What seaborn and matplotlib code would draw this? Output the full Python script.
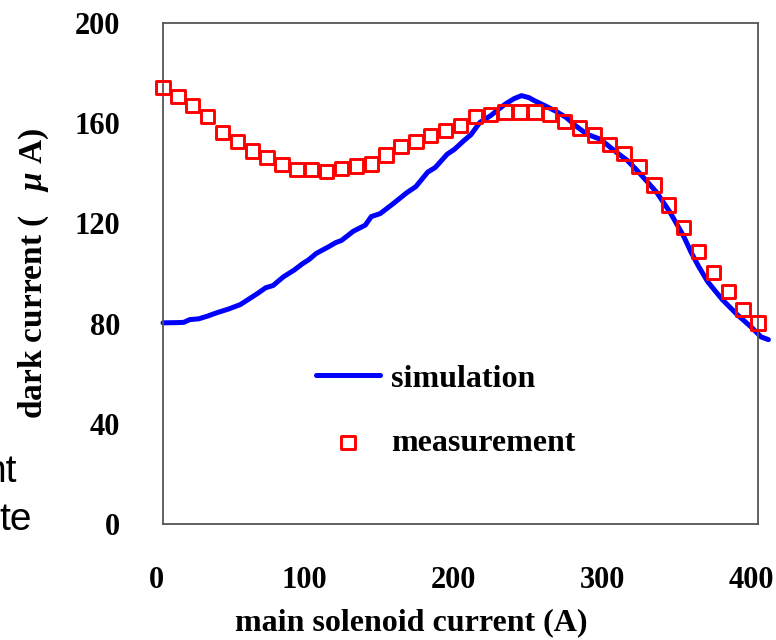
import numpy as np
import pandas as pd
import matplotlib
matplotlib.use("Agg")
import matplotlib.pyplot as plt
import matplotlib.transforms as mtransforms
import seaborn as sns

# ---- data ----
sim_x = [0, 10, 14, 18, 24, 30, 36, 44, 52, 58, 64, 69, 74, 81, 88, 94, 98, 103,
         112, 116, 120, 128, 136, 140, 146, 155, 164, 170, 178, 183, 191, 196,
         202, 207, 213, 220, 230, 236, 241, 246, 250, 257, 264, 271, 278, 285,
         294, 305, 312, 318, 325, 332, 341, 350, 355, 360, 366, 371, 376, 386,
         396, 402, 407]
sim_y = [80.3, 80.4, 80.5, 81.6, 81.9, 83.0, 84.3, 85.8, 87.6, 89.9, 92.2, 94.3,
         95.2, 98.7, 101.3, 104.0, 105.5, 108.0, 110.9, 112.3, 113.2, 116.9,
         119.3, 122.7, 123.9, 128.0, 132.3, 134.7, 140.5, 142.3, 147.6, 149.6,
         152.9, 155.4, 160.3, 162.9, 167.6, 169.8, 171.0, 170.2, 168.9, 166.9,
         164.8, 162.3, 158.7, 155.6, 153.6, 148.3, 145.2, 141.6, 137.0, 132.3,
         124.3, 114.9, 108.5, 102.9, 96.9, 93.2, 89.6, 83.6, 78.3, 74.7, 73.6]

meas_x = [0, 10, 20, 30, 40, 50, 60, 70, 80, 90, 100, 110, 120, 130, 140, 150,
          160, 170, 180, 190, 200, 210, 220, 230, 240, 250, 260, 270, 280, 290,
          300, 310, 320, 330, 340, 350, 360, 370, 380, 390, 400]
meas_y = [174.3, 170.7, 167.1, 162.7, 156.3, 152.7, 148.9, 146.3, 143.6, 141.6,
          141.6, 140.7, 141.9, 142.9, 143.7, 147.3, 150.8, 152.8, 155.2, 157.2,
          159.0, 162.7, 163.6, 164.5, 164.5, 164.5, 163.6, 160.8, 158.1, 155.3,
          151.6, 148.0, 142.7, 135.3, 127.3, 118.3, 108.9, 100.3, 92.9, 85.6, 80.3]

x_ticks = [0, 100, 200, 300, 400]
y_ticks = [0, 40, 80, 120, 160, 200]
x_label = "main solenoid current (A)"
y_label = r"dark current (   $\mu$ A)"
sim_name = "simulation"
meas_name = "measurement"
side_text = ["nt", "te"]

sim_df = pd.DataFrame({"x": sim_x, "y": sim_y})
meas_df = pd.DataFrame({"x": meas_x, "y": meas_y})

# ---- style ----
sns.set_theme(style="white")
plt.rcParams["font.family"] = ["Liberation Serif", "DejaVu Serif"]
plt.rcParams["font.weight"] = "bold"
plt.rcParams["text.color"] = "black"
plt.rcParams["axes.labelcolor"] = "black"
plt.rcParams["mathtext.fontset"] = "custom"
plt.rcParams["mathtext.it"] = "Liberation Serif:italic:bold"
plt.rcParams["mathtext.rm"] = "Liberation Serif:bold"

fig = plt.figure(figsize=(7.76, 6.40), dpi=100)
ax = fig.add_axes([163 / 776, 1 - 524 / 640, (758 - 163) / 776, (524 - 23) / 640])

sns.lineplot(data=sim_df, x="x", y="y", ax=ax, color="#0000ff", linewidth=3.6,
             sort=False, estimator=None, label=sim_name, clip_on=False)
sns.scatterplot(data=meas_df, x="x", y="y", ax=ax, marker="s", s=92,
                facecolor="none", edgecolor="#ff0000", linewidth=2.1,
                label=meas_name, clip_on=False, zorder=3)

ax.set_xlim(0, 400)
ax.set_ylim(0, 200)
ax.set_xticks(x_ticks)
ax.set_yticks(y_ticks)
ax.tick_params(axis="both", direction="in", length=9, width=1.2, color="#333333",
               labelsize=22, pad=31, labelcolor="black")
ax.tick_params(axis="x", pad=30)
offset = mtransforms.ScaledTranslation(-7 / 100, 0, fig.dpi_scale_trans)
for lab in ax.get_xticklabels():
    lab.set_fontweight("bold")
    lab.set_transform(lab.get_transform() + offset)
for lab in ax.get_yticklabels():
    lab.set_fontweight("bold")
for sp in ax.spines.values():
    sp.set_color("#555555")
    sp.set_linewidth(1.3)
    sp.set_visible(True)

ax.set_xlabel(x_label, fontsize=23, fontweight="bold", color="black")
ax.set_ylabel(y_label, fontsize=24, fontweight="bold", color="black")
ax.xaxis.set_label_coords(0.417, -0.169)
ax.yaxis.set_label_coords(-0.189, 0.5)

leg = ax.legend(loc="upper left", bbox_to_anchor=(0.257, 0.319), frameon=False,
                fontsize=23, handlelength=2.0, handletextpad=0.35,
                labelspacing=1.1, borderpad=0, borderaxespad=0)
for t in leg.get_texts():
    t.set_fontweight("bold")
    t.set_color("black")

fig.text(17 / 776, 1 - 482 / 640, side_text[0], ha="right", va="baseline",
         fontsize=28, family="Liberation Sans", fontweight="normal", color="black")
fig.text(32 / 776, 1 - 530 / 640, side_text[1], ha="right", va="baseline",
         fontsize=28, family="Liberation Sans", fontweight="normal", color="black")

fig.savefig("out.png", dpi=100)
